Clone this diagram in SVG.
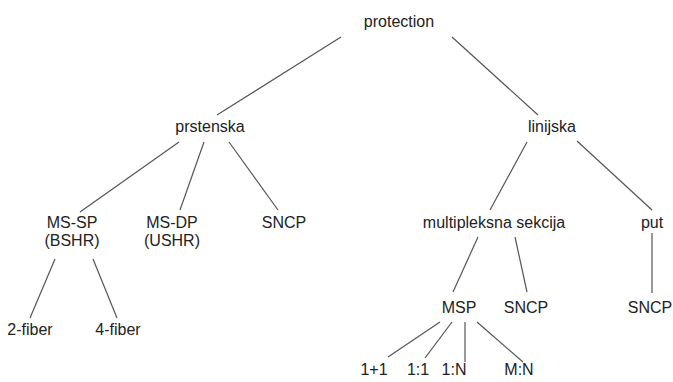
<svg xmlns="http://www.w3.org/2000/svg" width="673" height="382" viewBox="0 0 673 382">
<style>
text{font-family:"Liberation Sans",Arial,sans-serif;font-size:16px;fill:#222;text-anchor:middle}
line{stroke:#555;stroke-width:1.2}
</style>
<rect width="673" height="382" fill="#fff"/>
<g id="connectors">
<line x1="341" y1="37" x2="217" y2="115"/>
<line x1="452" y1="37" x2="538" y2="115"/>
<line x1="179" y1="142" x2="80" y2="212"/>
<line x1="204" y1="142" x2="180" y2="210"/>
<line x1="229" y1="142" x2="278" y2="210"/>
<line x1="55" y1="259" x2="30" y2="318"/>
<line x1="93" y1="259" x2="117" y2="318"/>
<line x1="527" y1="142" x2="490" y2="210"/>
<line x1="577" y1="141" x2="652" y2="210"/>
<line x1="478" y1="237" x2="453" y2="292"/>
<line x1="515" y1="237" x2="527" y2="292"/>
<line x1="652" y1="233" x2="652" y2="293"/>
<line x1="440" y1="322" x2="388" y2="357"/>
<line x1="452" y1="322" x2="425" y2="358"/>
<line x1="465" y1="322" x2="465" y2="362"/>
<line x1="477" y1="322" x2="523" y2="362"/>
</g>
<g id="protection"><text x="399" y="27">protection</text></g>
<g id="prstenska"><text x="210" y="132">prstenska</text></g>
<g id="linijska"><text x="552" y="132">linijska</text></g>
<g id="ms-sp"><text x="72" y="228">MS-SP</text><text x="72" y="246">(BSHR)</text></g>
<g id="ms-dp"><text x="172" y="228">MS-DP</text><text x="172" y="246">(USHR)</text></g>
<g id="sncp1"><text x="284" y="228">SNCP</text></g>
<g id="multipleksna"><text x="494" y="228">multipleksna sekcija</text></g>
<g id="put"><text x="652" y="228">put</text></g>
<g id="fiber2"><text x="30" y="335">2-fiber</text></g>
<g id="fiber4"><text x="118" y="335">4-fiber</text></g>
<g id="msp"><text x="459" y="313">MSP</text></g>
<g id="sncp2"><text x="526" y="313">SNCP</text></g>
<g id="sncp3"><text x="650" y="313">SNCP</text></g>
<g id="p11plus"><text x="374" y="375">1+1</text></g>
<g id="p11"><text x="418" y="375">1:1</text></g>
<g id="p1n"><text x="454" y="375">1:N</text></g>
<g id="pmn"><text x="519" y="375">M:N</text></g>
</svg>
